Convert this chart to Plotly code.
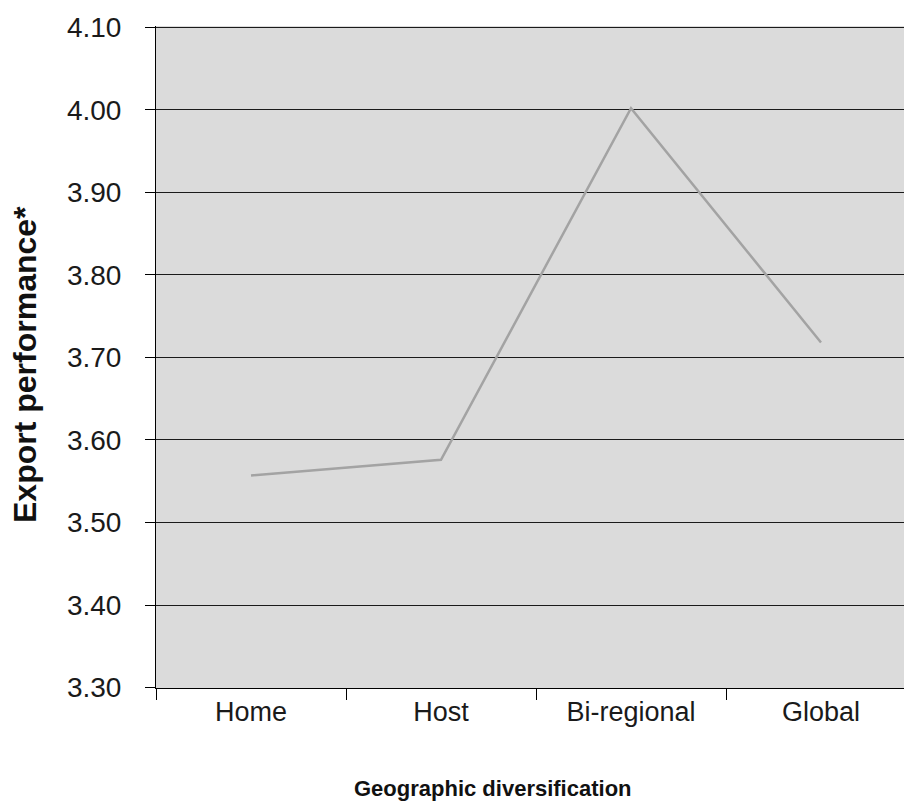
import plotly.graph_objects as go

categories = ["Home", "Host", "Bi-regional", "Global"]
export_performance = [3.557, 3.576, 4.002, 3.718]
y_ticks = [3.30, 3.40, 3.50, 3.60, 3.70, 3.80, 3.90, 4.00, 4.10]
y_tick_labels = ["%.2f" % v for v in y_ticks]

fig = go.Figure()
fig.add_trace(go.Scatter(
    x=categories, y=export_performance, mode="lines",
    line=dict(color="#a3a3a3", width=2.5), showlegend=False,
))

font_family = "Liberation Sans, Arial, sans-serif"

W, H = 904, 812
L, T, B = 156, 26, 124
plot_w = W - L
plot_h = H - T - B

fig.update_layout(
    width=W, height=H,
    margin=dict(l=L, r=0, t=T, b=B, pad=0, autoexpand=False),
    paper_bgcolor="white",
    plot_bgcolor="#dbdbdb",
    font=dict(family=font_family, color="#1a1a1a"),
    xaxis=dict(
        type="category",
        categoryorder="array", categoryarray=categories,
        range=[-0.5, -0.5 + plot_w / 190],
        automargin=False,
        showgrid=False, zeroline=False,
        showline=True, linecolor="black", linewidth=1,
        ticks="outside", ticklen=11, tickcolor="black", tickwidth=1,
        tickson="boundaries",
        tickfont=dict(size=27, family=font_family, color="#1a1a1a"),
        ticklabelstandoff=0,
    ),
    yaxis=dict(
        range=[3.2995, 4.1015],
        automargin=False,
        tickvals=y_ticks, ticktext=y_tick_labels,
        showgrid=True, gridcolor="#1a1a1a", gridwidth=1.2,
        zeroline=False,
        showline=True, linecolor="black", linewidth=1,
        ticks="outside", ticklen=10, tickcolor="black", tickwidth=1,
        tickfont=dict(size=28, family=font_family, color="#1a1a1a"),
        ticklabelstandoff=18,
    ),
    annotations=[
        dict(text="<b>Geographic diversification</b>",
             xref="paper", yref="paper",
             x=(493 - 156) / plot_w, y=(688 - 788) / plot_h,
             xanchor="center", yanchor="middle", showarrow=False,
             font=dict(size=22, family=font_family, color="#111")),
        dict(text="<b>Export performance*</b>",
             xref="paper", yref="paper",
             x=(25 - 156) / plot_w, y=(688 - 365) / plot_h,
             xanchor="center", yanchor="middle", showarrow=False, textangle=-90,
             font=dict(size=32, family=font_family, color="#111")),
    ],
)

fig.write_html(
    "out.html",
    config={"displayModeBar": False},
    post_script="document.body.style.margin='0';document.body.style.overflow='hidden';",
)
